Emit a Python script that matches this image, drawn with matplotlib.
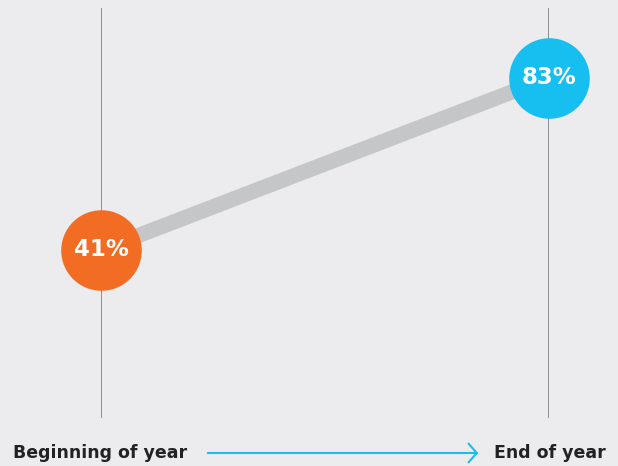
import matplotlib.pyplot as plt
from matplotlib.patches import FancyArrowPatch

# data
stages = ["Beginning of year", "End of year"]
values = [41, 83]
labels = ["41%", "83%"]
colors = ["#F36C24", "#17BEF0"]

bg = "#ECECEE"
plt.rcParams['font.family'] = ['DejaVu Sans']

fig = plt.figure(figsize=(6.18, 4.66), dpi=100)
fig.patch.set_facecolor(bg)

ax = fig.add_axes([101 / 618, (466 - 418) / 466, (549 - 101) / 618, (418 - 8) / 466])
ax.set_facecolor(bg)
ax.set_xlim(0, 1)
ax.set_ylim(0, 100)
ax.axis("off")

xs = [0, 1]
for x in xs:
    ax.axvline(x, color="#858585", lw=1.3, zorder=1)

ax.plot(xs, values, color="#C4C6C8", lw=11, solid_capstyle="butt", zorder=2)

for x, v, lab, c in zip(xs, values, labels, colors):
    ax.plot(x, v, "o", ms=58, color=c, mec="none", zorder=3, clip_on=False)
    ax.text(x, v, lab, color="white", fontsize=16.5, fontweight="bold",
            ha="center", va="center", zorder=4)

fig.text(13 / 618, 1 - 453 / 466, stages[0], fontsize=12.5, fontweight="bold",
         color="#222222", ha="left", va="center")
fig.text(606 / 618, 1 - 453 / 466, stages[1], fontsize=12.5, fontweight="bold",
         color="#222222", ha="right", va="center")
fig.add_artist(FancyArrowPatch(
    (205 / 618, 1 - 453 / 466), (481 / 618, 1 - 453 / 466),
    transform=fig.transFigure, arrowstyle="->,head_length=4,head_width=4.5",
    color="#1BBDEB", lw=1.5, mutation_scale=1.5))

fig.savefig("out.png", dpi=100, facecolor=bg)
